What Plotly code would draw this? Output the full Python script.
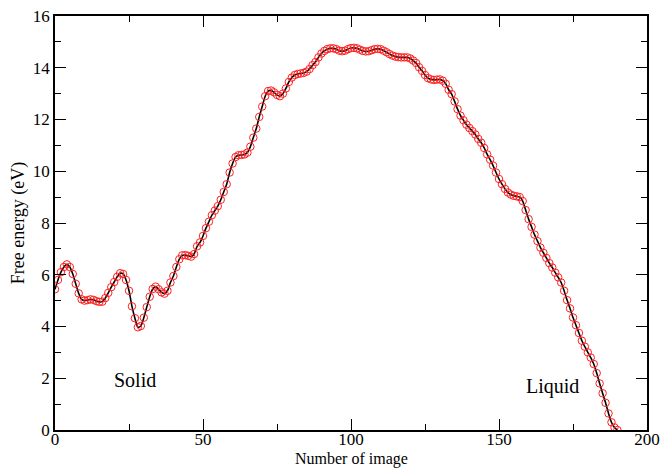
import plotly.graph_objects as go

image_index = list(range(0, 191))
free_energy = [
    5.44, 5.80, 6.10, 6.30, 6.40, 6.30, 6.03, 5.65, 5.28, 5.05,
    5.00, 5.02, 5.05, 5.03, 4.98, 4.95, 4.96, 5.10, 5.30, 5.52,
    5.72, 5.92, 6.06, 6.03, 5.80, 5.38, 4.78, 4.32, 3.97, 4.02,
    4.34, 4.75, 5.15, 5.45, 5.54, 5.44, 5.32, 5.27, 5.38, 5.70,
    5.95, 6.30, 6.60, 6.75, 6.76, 6.73, 6.70, 6.80, 7.10, 7.25,
    7.50, 7.80, 8.05, 8.30, 8.48, 8.65, 8.90, 9.20, 9.50, 9.95,
    10.30, 10.55, 10.62, 10.63, 10.65, 10.72, 10.95, 11.30, 11.65, 12.10,
    12.50, 12.90, 13.10, 13.12, 13.05, 12.95, 12.90, 13.00, 13.20, 13.45,
    13.62, 13.72, 13.76, 13.78, 13.80, 13.85, 13.95, 14.10, 14.22, 14.40,
    14.55, 14.65, 14.72, 14.75, 14.75, 14.72, 14.66, 14.64, 14.66, 14.72,
    14.76, 14.77, 14.75, 14.70, 14.65, 14.63, 14.64, 14.68, 14.72, 14.73,
    14.72, 14.66, 14.60, 14.53, 14.47, 14.43, 14.41, 14.40, 14.40, 14.40,
    14.36, 14.28, 14.18, 14.02, 13.88, 13.72, 13.60, 13.55, 13.53, 13.54,
    13.55, 13.50, 13.38, 13.15, 12.98, 12.70, 12.40, 12.15, 11.97, 11.80,
    11.67, 11.55, 11.42, 11.25, 11.10, 10.90, 10.65, 10.45, 10.22, 9.95,
    9.70, 9.50, 9.32, 9.18, 9.10, 9.05, 9.03, 9.00, 8.85, 8.50,
    8.15, 7.85, 7.55, 7.30, 7.05, 6.85, 6.65, 6.45, 6.28, 6.08,
    5.90, 5.70, 5.38, 5.02, 4.70, 4.35, 4.05, 3.75, 3.45, 3.22,
    3.00, 2.80, 2.55, 2.20, 1.80, 1.42, 1.05, 0.64, 0.30, 0.10,
    0.00,
]

x_ticks = [0, 50, 100, 150, 200]
y_ticks = [0, 2, 4, 6, 8, 10, 12, 14, 16]

fig = go.Figure()
fig.add_trace(go.Scatter(
    x=image_index, y=free_energy, mode="lines",
    line=dict(color="black", width=1.6, shape="spline", smoothing=0.6),
    showlegend=False, hoverinfo="skip",
))
fig.add_trace(go.Scatter(
    x=image_index, y=free_energy, mode="markers",
    marker=dict(symbol="circle-open", color="#ff2020", size=7.5, line=dict(width=1)),
    showlegend=False,
))

font_family = "Liberation Serif"

fig.add_annotation(x=27, y=1.93, text="Solid", showarrow=False,
                   font=dict(family=font_family, size=20, color="black"))
fig.add_annotation(x=168.2, y=1.7, text="Liquid", showarrow=False,
                   font=dict(family=font_family, size=20, color="black"))
# x-axis title placed as paper annotation below tick labels
fig.add_annotation(x=0.5, y=-0.07, xref="paper", yref="paper", yanchor="middle",
                   text="Number of image", showarrow=False,
                   font=dict(family=font_family, size=16, color="black"))

axis_common = dict(
    showgrid=False, zeroline=False, showline=True, linecolor="black", linewidth=1.5,
    ticks="inside", ticklen=11, tickwidth=1.2, tickcolor="black", mirror="allticks",
    tickfont=dict(family=font_family, size=17, color="black"),
    automargin=False,
)

fig.update_xaxes(
    range=[0, 200], tickvals=x_ticks, ticktext=[str(v) for v in x_ticks],
    minor=dict(ticks="inside", ticklen=6, dtick=25, tick0=0, tickcolor="black", tickwidth=1.2),
    ticklabelstandoff=-7,
    **axis_common,
)
fig.update_yaxes(
    range=[0, 16], tickvals=y_ticks, ticktext=[str(v) for v in y_ticks],
    minor=dict(ticks="inside", ticklen=6, dtick=1, tick0=0, tickcolor="black", tickwidth=1.2),
    title=dict(text="Free energy (eV)", font=dict(family=font_family, size=18, color="black"), standoff=4),
    **axis_common,
)

fig.update_layout(
    width=660, height=468,
    margin=dict(l=55, r=13, t=16, b=38),
    paper_bgcolor="white", plot_bgcolor="white",
    font=dict(family=font_family),
)

fig.write_html("out.html")
